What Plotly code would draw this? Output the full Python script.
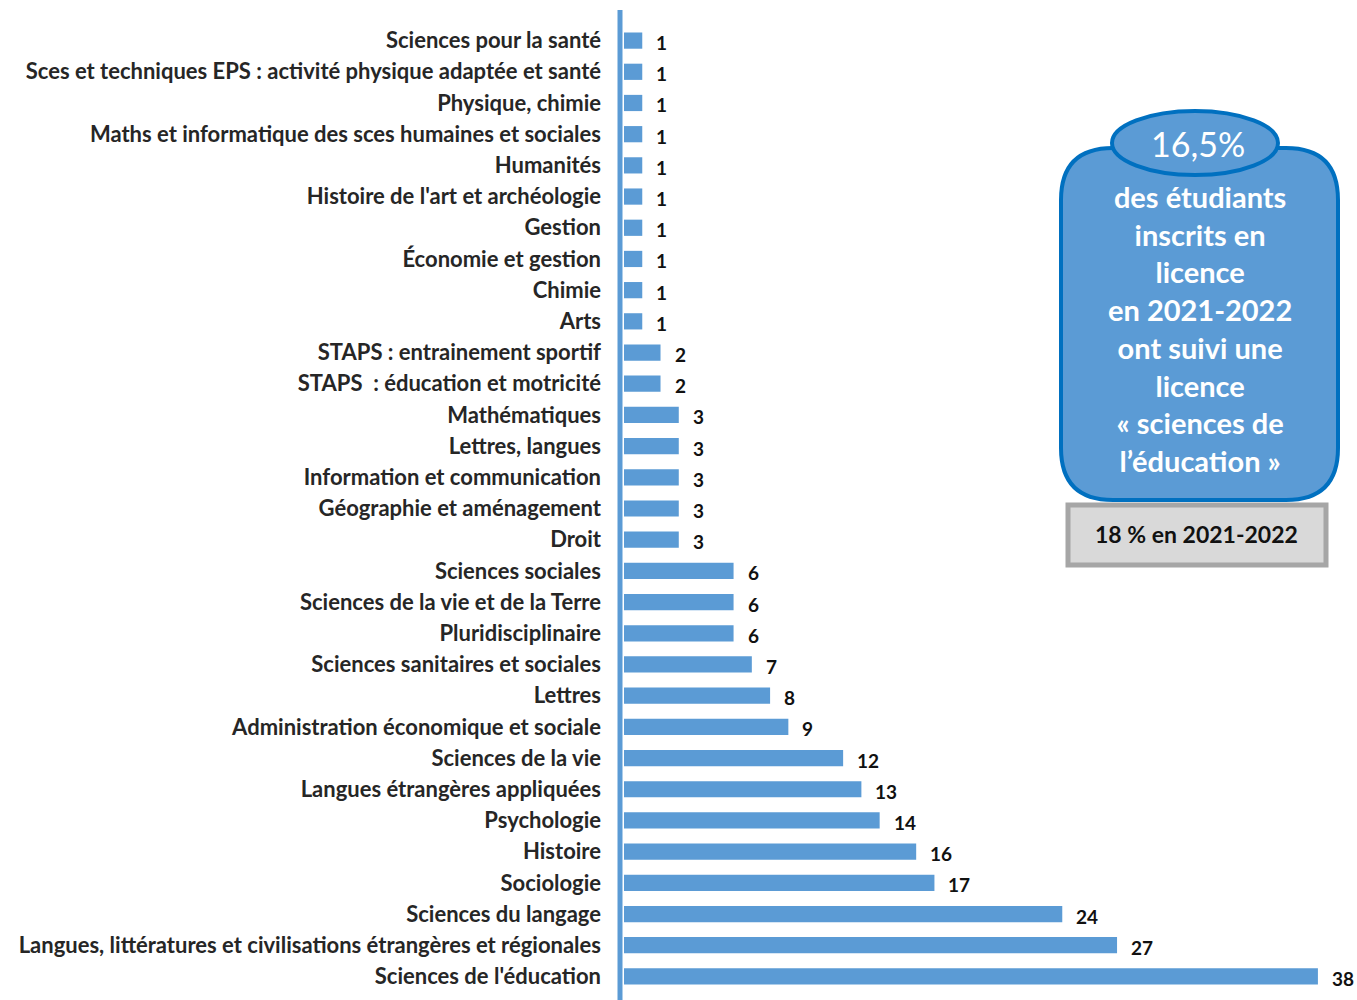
import plotly.graph_objects as go

categories = [
    "Sciences pour la santé",
    "Sces et techniques EPS : activité physique adaptée et santé",
    "Physique, chimie",
    "Maths et informatique des sces humaines et sociales",
    "Humanités",
    "Histoire de l'art et archéologie",
    "Gestion",
    "Économie et gestion",
    "Chimie",
    "Arts",
    "STAPS : entrainement sportif",
    "STAPS  : éducation et motricité",
    "Mathématiques",
    "Lettres, langues",
    "Information et communication",
    "Géographie et aménagement",
    "Droit",
    "Sciences sociales",
    "Sciences de la vie et de la Terre",
    "Pluridisciplinaire",
    "Sciences sanitaires et sociales",
    "Lettres",
    "Administration économique et sociale",
    "Sciences de la vie",
    "Langues étrangères appliquées",
    "Psychologie",
    "Histoire",
    "Sociologie",
    "Sciences du langage",
    "Langues, littératures et civilisations étrangères et régionales",
    "Sciences de l'éducation",
]
values = [1, 1, 1, 1, 1, 1, 1, 1, 1, 1, 2, 2, 3, 3, 3, 3, 3, 6, 6, 6, 7, 8, 9,
          12, 13, 14, 16, 17, 24, 27, 38]

callout_pct = "16,5%"
callout_text = "des étudiants<br>inscrits en<br>licence<br>en 2021-2022<br>ont suivi une<br>licence<br>« sciences de<br>l’éducation »"
grey_text = "18 % en 2021-2022"

W, H = 1357, 1000
ML, MR, MT, MB = 624, 0, 25, 8
PW, PH = W - ML - MR, H - MT - MB

def px(x):
    return (x - ML) / PW

def py(y):
    return 1 - (y - MT) / PH

BLUE = "#5b9bd5"
DARK = "#0070c0"
FONT = "Lato"

fig = go.Figure()
fig.add_trace(go.Bar(
    x=values, y=categories, orientation="h",
    marker=dict(color=BLUE, line=dict(width=0)),
    hoverinfo="x+y",
))

for c, v in zip(categories, values):
    fig.add_annotation(x=v, y=c, text=f"<b>{v}</b>", showarrow=False,
                       xanchor="left", xshift=12, yshift=-2,
                       font=dict(family=FONT, size=19, color="#111111"))

shapes = []
# vertical axis line
shapes.append(dict(type="line", xref="paper", yref="paper",
                   x0=px(620), x1=px(620), y0=py(10), y1=py(1000),
                   line=dict(color=BLUE, width=5)))

# rounded callout box
x0, x1, y0, y1, r = 1061, 1338, 148, 500, 52
def rr(x0, x1, y0, y1, r):
    return (f"M {px(x0 + r)},{py(y0)} L {px(x1 - r)},{py(y0)} "
            f"Q {px(x1)},{py(y0)} {px(x1)},{py(y0 + r)} "
            f"L {px(x1)},{py(y1 - r)} Q {px(x1)},{py(y1)} {px(x1 - r)},{py(y1)} "
            f"L {px(x0 + r)},{py(y1)} Q {px(x0)},{py(y1)} {px(x0)},{py(y1 - r)} "
            f"L {px(x0)},{py(y0 + r)} Q {px(x0)},{py(y0)} {px(x0 + r)},{py(y0)} Z")
shapes.append(dict(type="path", xref="paper", yref="paper", path=rr(x0, x1, y0, y1, r),
                   fillcolor=BLUE, line=dict(color=DARK, width=4)))
# oval
shapes.append(dict(type="circle", xref="paper", yref="paper",
                   x0=px(1112), x1=px(1278), y0=py(111), y1=py(175),
                   fillcolor=BLUE, line=dict(color=DARK, width=4)))
# grey box
shapes.append(dict(type="rect", xref="paper", yref="paper",
                   x0=px(1068), x1=px(1326), y0=py(505), y1=py(565),
                   fillcolor="#d9d9d9", line=dict(color="#a6a6a6", width=5)))

annotations = [
    dict(xref="paper", yref="paper", x=px(1198), y=py(144), text=callout_pct,
         showarrow=False, xanchor="center", yanchor="middle",
         font=dict(family=FONT, size=34, color="white")),
    dict(xref="paper", yref="paper", x=px(1200), y=py(328), text=f"<b>{callout_text}</b>",
         showarrow=False, xanchor="center", yanchor="middle",
         font=dict(family=FONT, size=29, color="white")),
    dict(xref="paper", yref="paper", x=px(1196), y=py(534), text=f"<b>{grey_text}</b>",
         showarrow=False, xanchor="center", yanchor="middle",
         font=dict(family=FONT, size=23, color="#111111")),
]

fig.update_layout(
    width=W, height=H,
    margin=dict(l=ML, r=MR, t=MT, b=MB, autoexpand=False),
    paper_bgcolor="white", plot_bgcolor="white",
    bargap=0.48, showlegend=False,
    shapes=shapes,
    xaxis=dict(range=[0, 40.14], visible=False, showgrid=False, zeroline=False),
    yaxis=dict(categoryorder="array", categoryarray=categories,
               range=[len(categories) - 0.5, -0.5],
               showgrid=False, zeroline=False, showline=False, ticks="",
               ticklabelstandoff=22,
               tickfont=dict(family=FONT, size=22, color="#262626", weight="bold")),
)
for a in annotations:
    fig.add_annotation(**a)

fig.write_html("out.html", config={"displayModeBar": False},
               post_script="document.body.style.margin='0';document.body.style.padding='0';document.body.style.overflow='hidden';")
